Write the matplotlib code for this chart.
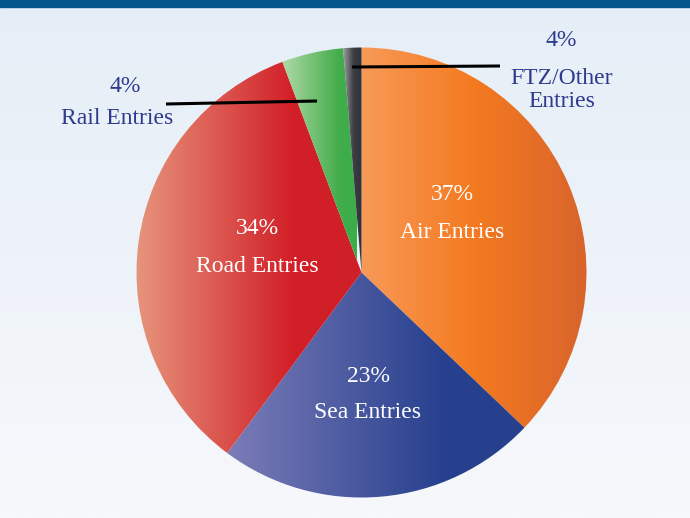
import matplotlib
matplotlib.use("Agg")
import matplotlib.pyplot as plt
import numpy as np
from matplotlib.colors import LinearSegmentedColormap, to_rgb

# slice data (clockwise from 12 o'clock)
categories = ["Air Entries", "Sea Entries", "Road Entries", "Rail Entries", "FTZ/Other\nEntries"]
values = [37, 23, 34, 4.4, 1.3]
pct_labels = ["37%", "23%", "34%", "4%", "4%"]

# horizontal gradient stops per slice: (pixel x, colour)
gradients = [
    [(361, "#f89a58"), (473, "#f47a20"), (586, "#d8642b")],
    [(228, "#7b7cb7"), (440, "#28418f"), (525, "#26408e")],
    [(138, "#e6937b"), (293, "#d21f27"), (361, "#cf1f28")],
    [(285, "#aad7a1"), (338, "#44ad4b"), (345, "#3dad4a")],
    [(343, "#9a9b9f"), (353, "#3d3e43"), (362, "#303136")],
]

W, H = 690, 518
CX, CY, R = 361.5, 272.5, 225.0
TEXT_BLUE = "#2e3a8e"
FONT = "Liberation Serif"
FS = 17


def px(x, y):
    """pixel position -> data coordinates (pie radius = 1)"""
    return (x - CX) / R, (CY - y) / R


fig = plt.figure(figsize=(W / 100, H / 100), dpi=100)
ax = fig.add_axes([0, 0, 1, 1])
x0, y1 = px(0, 0)
x1, y0 = px(W, H)

# background: soft blue fading to near white
bg = LinearSegmentedColormap.from_list("bg", ["#e5eef7", "#eef3f9", "#f6f8fb"])
ax.imshow(np.linspace(0, 1, 256)[:, None], cmap=bg, aspect="auto",
          extent=(x0, x1, y0, y1), origin="upper", zorder=0)

# title banner (cut off at the top)
bx, by = px(0, 7)
ax.add_patch(plt.Rectangle((x0, by), x1 - x0, y1 - by, color="#02558b", zorder=1))

wedges, _ = ax.pie(values, startangle=90, counterclock=False, radius=1,
                   center=(0, 0), wedgeprops=dict(linewidth=0), frame=True)

for w, stops in zip(wedges, gradients):
    xs = [px(s[0], 0)[0] for s in stops]
    lo, hi = xs[0] - 0.05, xs[-1] + 0.05
    pos = [(x - lo) / (hi - lo) for x in xs]
    pos = [0.0] + pos + [1.0]
    cols = [stops[0][1]] + [s[1] for s in stops] + [stops[-1][1]]
    cmap = LinearSegmentedColormap.from_list("g", list(zip(pos, [to_rgb(c) for c in cols])))
    w.set_facecolor("none")
    im = ax.imshow(np.linspace(0, 1, 512)[None, :], cmap=cmap, aspect="auto",
                   extent=(lo, hi, -1.05, 1.05), zorder=2, interpolation="bilinear")
    im.set_clip_path(w)

ax.set_xlim(x0, x1)
ax.set_ylim(y0, y1)
ax.set_aspect("auto")
ax.axis("off")

# labels inside slices
inside = {0: (452, 194, 232), 1: (368, 376, 412), 2: (257, 228, 266)}
for i, (lx, py1, py2) in inside.items():
    ax.text(*px(lx, py1), pct_labels[i], color="white", ha="center", va="center",
            fontsize=FS, family=FONT, zorder=5)
    ax.text(*px(lx, py2), categories[i], color="white", ha="center", va="center",
            fontsize=FS, family=FONT, zorder=5)

# outside labels with leader lines
ax.text(*px(125, 87), pct_labels[3], color=TEXT_BLUE, ha="center", va="center",
        fontsize=FS, family=FONT, zorder=5)
ax.text(*px(117, 118), categories[3], color=TEXT_BLUE, ha="center", va="center",
        fontsize=FS, family=FONT, zorder=5)
ax.plot(*zip(px(166, 104), px(317, 101)), color="black", lw=2.2, zorder=6,
        solid_capstyle="butt")

ax.text(*px(561, 40), pct_labels[4], color=TEXT_BLUE, ha="center", va="center",
        fontsize=FS, family=FONT, zorder=5)
ax.text(*px(562, 90), categories[4], color=TEXT_BLUE, ha="center", va="center",
        fontsize=FS, family=FONT, zorder=5, linespacing=1.1)
ax.plot(*zip(px(352, 67), px(500, 66)), color="black", lw=2.2, zorder=6,
        solid_capstyle="butt")

fig.savefig("out.png", dpi=100)
